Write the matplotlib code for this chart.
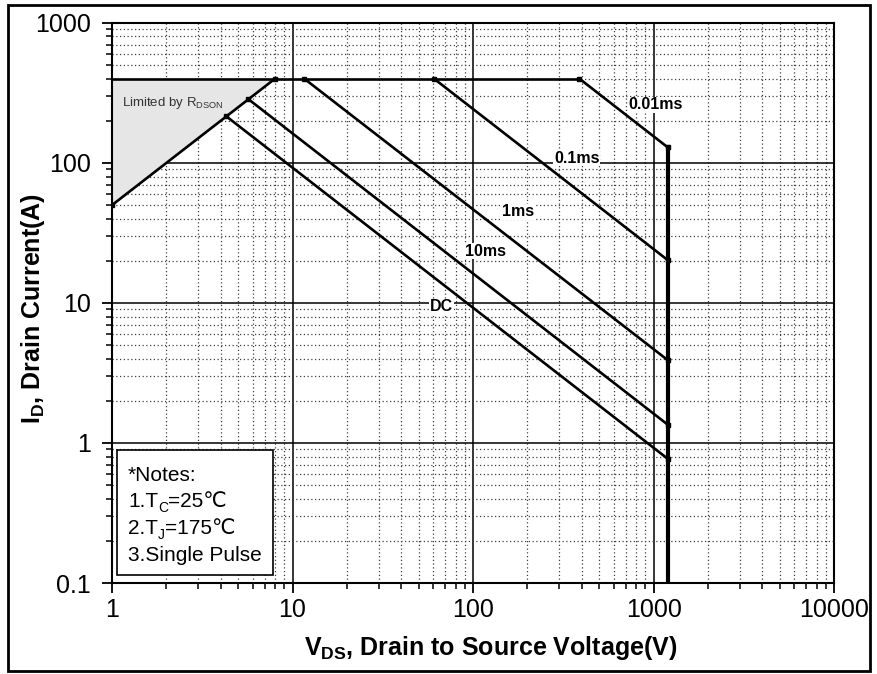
import numpy as np
import matplotlib.pyplot as plt
from matplotlib.patches import Rectangle
from matplotlib.ticker import LogLocator, NullFormatter, FixedLocator

plt.rcParams['font.family'] = ['Liberation Sans', 'DejaVu Sans']
plt.rcParams['mathtext.fontset'] = 'custom'
plt.rcParams['mathtext.rm'] = 'Liberation Sans'
plt.rcParams['mathtext.bf'] = 'Liberation Sans:bold'

# Rds(on) limit line and current limit
v_rds = [1, 8]
i_rds = [50, 400]
v_lim = [1, 388]
i_lim = [400, 400]

# pulse lines (start on the limit, end at 1200 V)
pulse_names = ['0.01ms', '0.1ms', '1ms', '10ms', 'DC']
start_v = [388, 60.7, 11.6, 5.7, 4.3]
start_i = [400, 400, 400, 285, 215]
end_v = [1200, 1200, 1200, 1200, 1200]
end_i = [129, 20.2, 3.9, 1.35, 0.77]

# label positions
label_v = [1030, 375, 178, 117, 67]
label_i = [260, 108, 44.7, 23.5, 9.4]

# notes: (main text, subscript, rest)
notes = [('*Notes:', '', ''), ('1.T', 'C', '=25℃'), ('2.T', 'J', '=175℃'),
         ('3.Single Pulse', '', '')]

fig = plt.figure(figsize=(8.78, 6.74), dpi=100)
ax = fig.add_axes([0.1276, 0.135, 0.8224, 0.831])
ax.set_xscale('log')
ax.set_yscale('log')
ax.set_xlim(1, 10000)
ax.set_ylim(0.1, 1000)

# grid
ax.grid(which='major', color='black', lw=1.1, ls='-')
ax.grid(which='minor', color='0.25', lw=0.9, ls=(0, (1, 2)))
ax.set_axisbelow(True)

# shaded region
ax.fill_between(v_rds, i_rds, [400, 400], color='#e6e6e6', lw=0, zorder=1)
ax.text(1.14, 270, r'Limited by R$_\mathregular{DSON}$', fontsize=9.5, color='#333333',
        va='center', zorder=2)

lw = 1.9
ax.plot(v_rds, i_rds, c='k', lw=lw, marker='s', ms=3.5, zorder=3)
ax.plot(v_lim, i_lim, c='k', lw=lw, zorder=3)
for i in range(len(pulse_names)):
    ax.plot([start_v[i], end_v[i]], [start_i[i], end_i[i]], c='k', lw=lw,
            marker='s', ms=3.5, zorder=3)
    ax.text(label_v[i], label_i[i], pulse_names[i], fontsize=11.5, fontweight='bold',
            ha='center', va='center', zorder=4,
            bbox=dict(fc='white', ec='none', pad=0.5))

# vertical limit at 1200 V
ax.plot([end_v[0], end_v[0]], [0.1, end_i[0]], c='k', lw=3, zorder=3)

# ticks
ax.xaxis.set_major_locator(FixedLocator([1, 10, 100, 1000, 10000]))
ax.yaxis.set_major_locator(FixedLocator([0.1, 1, 10, 100, 1000]))
ax.xaxis.set_minor_locator(LogLocator(base=10, subs=np.arange(2, 10)))
ax.yaxis.set_minor_locator(LogLocator(base=10, subs=np.arange(2, 10)))
ax.xaxis.set_minor_formatter(NullFormatter())
ax.yaxis.set_minor_formatter(NullFormatter())
ax.set_xticklabels(['1', '10', '100', '1000', '10000'])
ax.set_yticklabels(['0.1', '1', '10', '100', '1000'])
ax.tick_params(which='major', length=7, width=1.3, labelsize=18, direction='out')
ax.tick_params(axis='x', which='major', pad=4)
ax.tick_params(axis='y', which='major', pad=8)
ax.tick_params(which='minor', length=4, width=1.1, direction='out')
for s in ax.spines.values():
    s.set_linewidth(1.5)

ax.set_xlabel(r'V$_\mathregular{DS}$, Drain to Source Voltage(V)', fontsize=18,
              fontweight='bold')
ax.set_ylabel(r'I$_\mathregular{D}$, Drain Current(A)', fontsize=18,
              fontweight='bold')
ax.xaxis.set_label_coords(0.525, -0.091)
ax.yaxis.set_label_coords(-0.090, 0.491)

# notes box
ax.add_patch(Rectangle((0.007, 0.014), 0.216, 0.223, transform=ax.transAxes,
                       fc='white', ec='black', lw=1.2, zorder=5))
for k, (main, sub, rest) in enumerate(notes):
    yk = 0.183 - k * 0.048
    t = ax.text(0.022, yk, main, transform=ax.transAxes, fontsize=15,
                va='baseline', ha='left', zorder=6)
    if sub:
        s = ax.annotate(sub, xy=(1, yk - 0.008), xycoords=(t, 'axes fraction'),
                        fontsize=10, va='baseline', ha='left', zorder=6)
        ax.annotate(rest, xy=(1, yk), xycoords=(s, 'axes fraction'),
                    fontsize=15, va='baseline', ha='left', zorder=6)

# outer frame
fig.patches.append(Rectangle((0.009, 0.004), 0.982, 0.988, transform=fig.transFigure,
                             fill=False, ec='black', lw=2))

plt.savefig('out.png', dpi=100)
